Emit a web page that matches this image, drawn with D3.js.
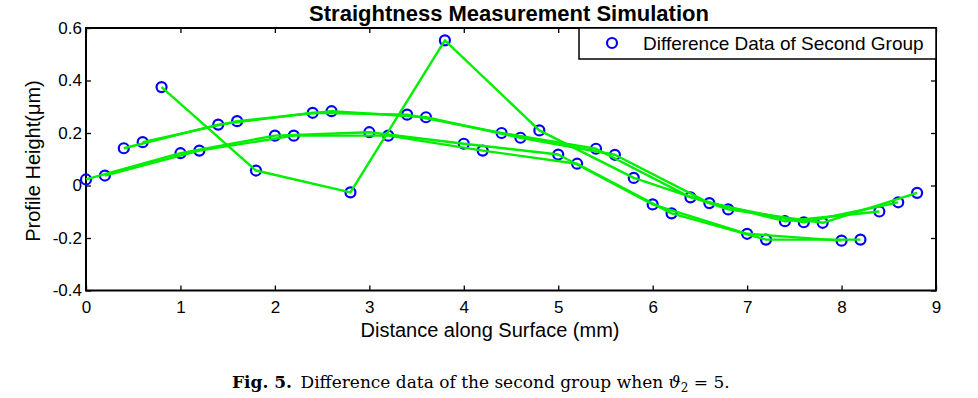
<!DOCTYPE html>
<html>
<head>
<meta charset="utf-8">
<script src="https://cdn.jsdelivr.net/npm/d3@7"></script>
<style>
  body { margin: 0; background: #fff; }
  svg { display: block; }
  .tick text { font-family: "Liberation Sans", Arial, sans-serif; font-size: 17px; fill: #000; }
</style>
</head>
<body>
<div id="chart"></div>
<script>
// distance along surface (mm) of each sample
const distance = [0, 0.2, 0.4, 0.6, 0.8, 1.0, 1.2, 1.4, 1.6, 1.8,
                  2.0, 2.2, 2.4, 2.6, 2.8, 3.0, 3.2, 3.4, 3.6, 3.8,
                  4.0, 4.2, 4.4, 4.6, 4.8, 5.0, 5.2, 5.4, 5.6, 5.8,
                  6.0, 6.2, 6.4, 6.6, 6.8, 7.0, 7.2, 7.4, 7.6, 7.8,
                  8.0, 8.2, 8.4, 8.6, 8.8];
// difference data of second group (um)
const difference = [0.023, 0.038, 0.142, 0.165, 0.375, 0.123, 0.133, 0.232, 0.245, 0.057,
                    0.190, 0.190, 0.277, 0.283, -0.026, 0.203, 0.190, 0.270, 0.260, 0.553,
                    0.159, 0.133, 0.200, 0.182, 0.210, 0.118, 0.083, 0.140, 0.117, 0.029,
                    -0.072, -0.106, -0.045, -0.067, -0.091, -0.184, -0.206, -0.136, -0.140, -0.142,
                    -0.210, -0.206, -0.099, -0.064, -0.028];
const xTicks = [0, 1, 2, 3, 4, 5, 6, 7, 8, 9];
const yTicks = [-0.4, -0.2, 0, 0.2, 0.4, 0.6];
const yTickLabels = ["-0.4", "-0.2", "0", "0.2", "0.4", "0.6"];
const nTracks = 5; // samples are interleaved, every 5th one belongs to the same track

const W = 978, H = 398;
const margin = { top: 28, right: 42, bottom: 107.5, left: 86 };
const width = W - margin.left - margin.right;
const height = H - margin.top - margin.bottom;

const svg = d3.select('#chart').append('svg')
    .attr('width', W)
    .attr('height', H);

const g = svg.append('g')
    .attr('transform', `translate(${margin.left},${margin.top})`);

const x = d3.scaleLinear().domain([0, 9]).range([0, width]);
const y = d3.scaleLinear().domain([-0.4, 0.6]).range([height, 0]);

const points = distance.map((d, i) => ({ x: d, y: difference[i], track: i % nTracks }));

// axes, ticks pointing inward
g.append('g')
    .attr('transform', `translate(0,${height})`)
    .call(d3.axisBottom(x).tickValues(xTicks).tickSizeInner(-5).tickSizeOuter(0).tickPadding(10).tickFormat(d3.format('d')));
g.append('g')
    .call(d3.axisTop(x).tickValues(xTicks).tickSizeInner(-5).tickSizeOuter(0).tickFormat(''));
g.append('g')
    .call(d3.axisLeft(y).tickValues(yTicks).tickSizeInner(-5).tickSizeOuter(0).tickPadding(4)
        .tickFormat((d, i) => yTickLabels[i]));
g.append('g')
    .attr('transform', `translate(${width},0)`)
    .call(d3.axisRight(y).tickValues(yTicks).tickSizeInner(-5).tickSizeOuter(0).tickFormat(''));

g.selectAll('.domain').remove();
g.selectAll('.tick line').attr('stroke', '#000').attr('stroke-width', 1.3);

g.append('rect')
    .attr('width', width)
    .attr('height', height)
    .attr('fill', 'none')
    .attr('stroke', '#000')
    .attr('stroke-width', 2);

// markers
g.selectAll('.pt')
    .data(points)
  .enter().append('circle')
    .attr('class', 'pt')
    .attr('cx', d => x(d.x))
    .attr('cy', d => y(d.y))
    .attr('r', 5)
    .attr('fill', 'none')
    .attr('stroke', '#0000ff')
    .attr('stroke-width', 2.2);

// green polylines through each track
const line = d3.line().x(d => x(d.x)).y(d => y(d.y));
const tracks = d3.groups(points, d => d.track);
g.selectAll('.track')
    .data(tracks)
  .enter().append('path')
    .attr('class', 'track')
    .attr('d', d => line(d[1]))
    .attr('fill', 'none')
    .attr('stroke', '#00ee00')
    .attr('stroke-width', 2.4)
    .attr('stroke-linejoin', 'round');

// legend
const lg = g.append('g').attr('transform', `translate(${width - 357},0)`);
lg.append('rect')
    .attr('width', 357)
    .attr('height', 31)
    .attr('fill', '#fff')
    .attr('stroke', '#000')
    .attr('stroke-width', 1.5);
lg.append('circle')
    .attr('cx', 33)
    .attr('cy', 15)
    .attr('r', 5)
    .attr('fill', 'none')
    .attr('stroke', '#0000ff')
    .attr('stroke-width', 2.2);
lg.append('text')
    .attr('x', 64)
    .attr('y', 22)
    .style('font-family', '"Liberation Sans", Arial, sans-serif')
    .style('font-size', '19px')
    .text('Difference Data of Second Group');

// title, axis labels
svg.append('text')
    .attr('x', 509)
    .attr('y', 20.5)
    .attr('text-anchor', 'middle')
    .style('font-family', '"Liberation Sans", Arial, sans-serif')
    .style('font-size', '22px')
    .style('font-weight', 'bold')
    .text('Straightness Measurement Simulation');

svg.append('text')
    .attr('x', 490)
    .attr('y', 337)
    .attr('text-anchor', 'middle')
    .style('font-family', '"Liberation Sans", Arial, sans-serif')
    .style('font-size', '20px')
    .text('Distance along Surface (mm)');

svg.append('text')
    .attr('transform', 'translate(40,161) rotate(-90)')
    .attr('text-anchor', 'middle')
    .style('font-family', '"Liberation Sans", Arial, sans-serif')
    .style('font-size', '20px')
    .text('Profile Height(μm)');

// caption
const cap = svg.append('text')
    .attr('x', 232)
    .attr('y', 388)
    .style('font-family', '"DejaVu Serif", serif')
    .style('font-size', '17px');
cap.append('tspan').style('font-weight', 'bold').text('Fig. 5.');
cap.append('tspan').text('\u2002Difference data of the second group when ');
cap.append('tspan').style('font-style', 'italic').text('ϑ');
cap.append('tspan').attr('dy', 4).style('font-size', '12px').text('2');
cap.append('tspan').attr('dy', -4).text(' = 5.');
</script>
</body>
</html>
